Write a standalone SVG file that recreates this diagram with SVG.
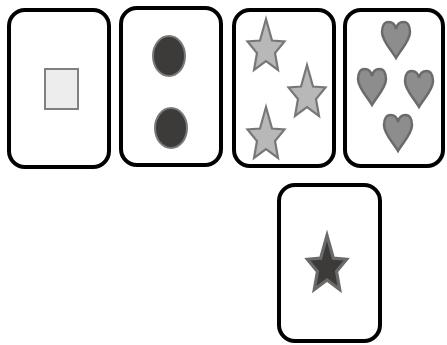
<svg xmlns="http://www.w3.org/2000/svg" width="447" height="345" viewBox="0 0 447 345">
<style>
.card{fill:#fff;stroke:#000;stroke-width:4}
.sq{fill:#ededed;stroke:#808080;stroke-width:2}
.oval{fill:#3d3a3a;stroke:#7a7a7a;stroke-width:2}
.lstar{fill:#b8b8b8;stroke:#777;stroke-width:2.2;stroke-linejoin:miter}
.heart{fill:#8d8d8d;stroke:#6b6b6b;stroke-width:2.5}
.dstar{fill:#3d3a3a;stroke:#6a6a6a;stroke-width:3}
</style>
<defs>
<path id="star" d="M0,-27 L6,-5.5 L18.5,-4.5 L9,7 L12,24 L0,15 L-12,24 L-9,7 L-18.5,-4.5 L-6,-5.5 Z"/>
<path id="heart" d="M0,7 C-1,2 -4,0 -7.5,0 C-11.5,0 -14,4 -14,10 C-14,19 -5,27 0,36 C5,27 14,19 14,10 C14,4 11.5,0 7.5,0 C4,0 1,2 0,7 Z"/>
</defs>
<g id="card1">
<rect class="card" x="9" y="10" width="100" height="157" rx="16"/>
<rect class="sq" x="45" y="69" width="33" height="40"/>
</g>
<g id="card2">
<rect class="card" x="121" y="8" width="100" height="157" rx="16"/>
<ellipse class="oval" cx="169" cy="56" rx="16" ry="20"/>
<ellipse class="oval" cx="171" cy="128" rx="16" ry="20"/>
</g>
<g id="card3">
<rect class="card" x="234" y="10" width="100" height="156" rx="16"/>
<use href="#star" class="lstar" x="266" y="46"/>
<use href="#star" class="lstar" x="307" y="92"/>
<use href="#star" class="lstar" x="266" y="134"/>
</g>
<g id="card4">
<rect class="card" x="345" y="10" width="98" height="156" rx="16"/>
<use href="#heart" class="heart" x="396" y="22"/>
<use href="#heart" class="heart" x="372" y="69"/>
<use href="#heart" class="heart" x="419" y="71"/>
<use href="#heart" class="heart" x="398" y="115"/>
</g>
<g id="card5">
<rect class="card" x="279" y="185" width="101" height="156" rx="16"/>
<use href="#star" class="dstar" transform="translate(327,264) scale(1.06)"/>
</g>
<g id="connectors"/>
</svg>
